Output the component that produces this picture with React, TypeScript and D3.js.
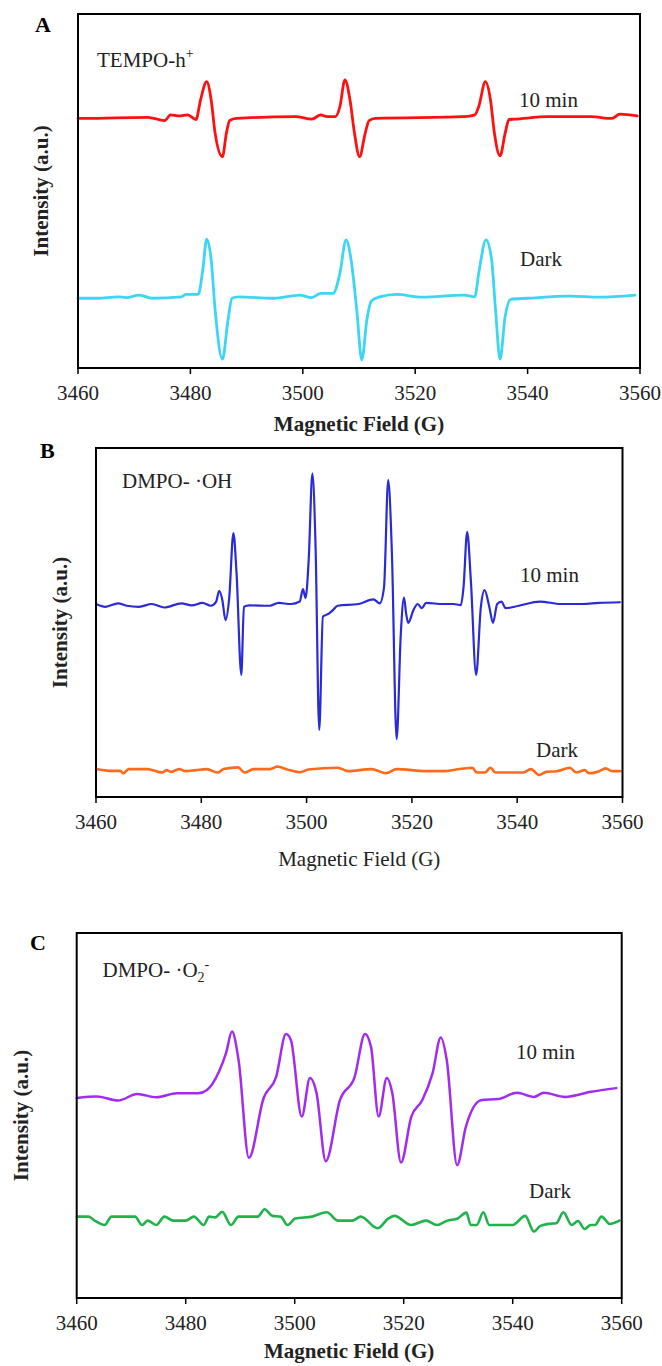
import React from "react";
import * as d3 from "d3";

// ---------- data (field in G, intensity in a.u.) ----------
const fieldTicks = [3460, 3480, 3500, 3520, 3540, 3560];
const fieldDomain: [number, number] = [3460, 3560];
const intensityDomain: [number, number] = [0, 100];

const tempo10min: [number, number][] = [
  [3460, 70.5], [3461.1, 70.5], [3472.4, 70.8], [3475.4, 69.9], [3476.5, 71.5], [3478.0, 71.2],
  [3479.5, 71.5], [3481.0, 70.2], [3481.8, 75.7], [3482.9, 80.9], [3483.7, 75.7], [3484.4, 66.3],
  [3485.7, 59.7], [3486.4, 66.3], [3487.0, 69.9], [3488.2, 70.5], [3498.7, 71.0], [3501.6, 70.3],
  [3503.2, 71.5], [3504.3, 71.0], [3505.8, 71.0], [3506.6, 73.8], [3507.5, 81.4], [3508.4, 75.7],
  [3509.2, 66.3], [3510.1, 59.7], [3511.1, 66.3], [3511.8, 69.9], [3512.9, 70.5], [3528.7, 71.0],
  [3530.6, 71.5], [3531.3, 73.8], [3532.5, 80.9], [3533.4, 75.7], [3534.1, 66.3], [3535.1, 59.9],
  [3536.0, 66.3], [3536.7, 70.2], [3537.7, 70.3], [3543.7, 71.0], [3551.2, 71.0], [3555.0, 70.5],
  [3556.4, 71.7], [3559.5, 71.2],
];

const tempoDark: [number, number][] = [
  [3460, 19.7], [3463.4, 19.7], [3467.2, 20.1], [3468.6, 19.9], [3470.9, 20.6], [3473.2, 19.7],
  [3478.4, 20.1], [3479.2, 20.8], [3481.4, 20.8], [3482.2, 27.7], [3482.9, 36.4], [3483.7, 30.5],
  [3484.4, 16.4], [3485.7, 2.5], [3486.7, 13.6], [3487.4, 19.7], [3488.5, 20.1], [3494.9, 19.7],
  [3499.4, 20.6], [3501.6, 19.9], [3503.2, 21.1], [3505.4, 21.1], [3506.6, 26.7], [3507.7, 36.2],
  [3508.6, 30.5], [3509.6, 16.4], [3510.5, 2.3], [3511.4, 13.6], [3512.2, 18.9], [3513.7, 20.1],
  [3516.7, 20.8], [3521.2, 20.0], [3528.7, 20.6], [3530.6, 20.1], [3531.3, 26.7], [3532.6, 36.2],
  [3533.6, 30.5], [3534.3, 16.4], [3535.1, 2.5], [3536.0, 14.5], [3537.0, 19.4], [3540.0, 19.7],
  [3547.5, 20.3], [3552.7, 20.0], [3559.1, 20.6],
];

const dmpoOH10min: [number, number][] = [
  [3460, 55.3], [3461.8, 54.5], [3464.2, 55.5], [3465.8, 54.8], [3468.2, 54.5], [3470.6, 55.3],
  [3473.0, 54.3], [3476.2, 55.5], [3478.2, 54.9], [3480.2, 55.6], [3481.8, 54.8], [3482.8, 55.9],
  [3483.4, 59.1], [3484.0, 56.4], [3484.6, 50.7], [3485.3, 57.0], [3486.1, 75.6], [3486.7, 64.0],
  [3487.6, 35.0], [3488.1, 54.5], [3489.1, 54.9], [3493.0, 54.8], [3494.7, 55.6], [3497.0, 55.3],
  [3498.7, 56.0], [3499.3, 59.6], [3499.8, 57.0], [3500.4, 68.0], [3501.1, 92.7], [3501.7, 72.0],
  [3502.4, 19.2], [3503.1, 51.7], [3504.3, 52.6], [3505.1, 53.7], [3505.9, 54.8], [3509.9, 55.3],
  [3512.7, 56.6], [3513.9, 55.5], [3514.7, 60.0], [3515.5, 90.8], [3516.2, 70.0], [3517.1, 16.6],
  [3517.9, 47.0], [3518.5, 57.1], [3518.9, 52.6], [3519.3, 49.9], [3520.3, 53.6], [3521.1, 55.3],
  [3521.9, 54.1], [3522.7, 55.6], [3525.9, 55.3], [3527.9, 55.3], [3529.3, 55.0], [3529.8, 60.0],
  [3530.5, 76.0], [3531.2, 62.0], [3532.2, 35.0], [3533.1, 54.5], [3533.8, 59.3], [3534.7, 54.5],
  [3535.4, 49.9], [3536.2, 55.3], [3537.0, 56.0], [3537.8, 54.1], [3540.3, 54.8], [3544.3, 56.0],
  [3548.3, 55.3], [3552.3, 55.3], [3555.5, 55.6], [3559.5, 55.8],
];

const dmpoOHDark: [number, number][] = [
  [3460, 8.0], [3462.6, 7.5], [3464.6, 7.5], [3465.2, 6.8], [3466.2, 8.0], [3469.8, 8.0],
  [3471.8, 7.2], [3472.6, 7.0], [3473.4, 7.7], [3474.2, 7.2], [3475.8, 8.0], [3477.0, 7.4],
  [3479.0, 7.7], [3481.0, 8.0], [3483.2, 7.0], [3484.2, 8.0], [3487.0, 8.5], [3488.2, 7.0],
  [3489.9, 8.0], [3493.0, 8.0], [3494.5, 8.7], [3496.3, 7.9], [3498.7, 7.1], [3500.3, 7.9],
  [3505.9, 8.4], [3507.9, 7.4], [3512.3, 8.0], [3515.1, 6.8], [3517.1, 8.0], [3522.7, 7.4],
  [3525.9, 7.4], [3529.1, 8.0], [3531.5, 8.4], [3532.3, 7.0], [3533.9, 7.0], [3534.9, 8.4],
  [3535.9, 7.0], [3541.1, 7.0], [3542.6, 8.0], [3544.2, 6.3], [3545.5, 7.2], [3547.6, 7.4],
  [3550.0, 8.4], [3551.2, 7.0], [3552.8, 7.7], [3553.6, 6.8], [3555.6, 7.4], [3556.8, 8.2],
  [3558.0, 7.4], [3559.6, 7.4],
];

const dmpoO210min: [number, number][] = [
  [3460, 54.8], [3463.7, 55.2], [3467.6, 54.1], [3471.1, 55.9], [3474.6, 55.0], [3478.4, 56.1],
  [3482.3, 56.1], [3483.9, 57.0], [3486.1, 62.0], [3487.4, 67.1], [3488.5, 73.0], [3489.7, 65.2],
  [3491.6, 38.4], [3494.3, 54.8], [3496.6, 60.6], [3498.4, 72.3], [3499.3, 70.7], [3501.3, 49.7],
  [3502.8, 60.3], [3504.0, 56.2], [3505.7, 37.5], [3508.3, 54.2], [3511.0, 60.6], [3512.9, 72.3],
  [3514.0, 68.8], [3515.4, 49.7], [3516.9, 60.3], [3517.9, 56.2], [3519.5, 37.1], [3521.4, 49.7],
  [3523.4, 54.2], [3525.3, 61.6], [3526.8, 71.4], [3527.9, 65.2], [3529.8, 36.4], [3531.4, 46.9],
  [3534.2, 54.2], [3537.3, 54.5], [3540.8, 56.2], [3543.9, 55.1], [3545.7, 56.2], [3549.6, 55.1],
  [3554.4, 56.5], [3559.0, 57.5],
];

const dmpoO2Dark: [number, number][] = [
  [3460, 22.3], [3462.2, 22.3], [3463.3, 21.2], [3465.1, 20.0], [3466.4, 22.3], [3470.7, 22.3],
  [3472.0, 20.0], [3473.0, 21.2], [3474.6, 20.0], [3476.1, 22.3], [3477.7, 21.2], [3480.0, 21.2],
  [3481.5, 22.3], [3483.3, 20.0], [3484.3, 22.3], [3485.4, 22.1], [3486.7, 23.6], [3488.3, 20.0],
  [3489.7, 22.3], [3493.2, 22.3], [3494.5, 24.3], [3495.9, 22.5], [3497.4, 22.3], [3498.7, 20.0],
  [3500.1, 21.8], [3503.2, 22.3], [3505.9, 23.5], [3507.9, 21.2], [3510.6, 21.2], [3512.1, 22.3],
  [3515.2, 19.1], [3517.2, 21.8], [3518.3, 22.5], [3521.4, 20.0], [3524.1, 21.2], [3526.1, 20.0],
  [3528.0, 21.2], [3529.9, 21.8], [3531.5, 23.4], [3532.3, 20.0], [3533.4, 20.0], [3534.6, 23.5],
  [3535.7, 20.0], [3540.0, 20.0], [3542.3, 22.5], [3543.9, 18.2], [3545.0, 19.7], [3546.6, 20.3],
  [3548.0, 20.5], [3549.3, 23.5], [3550.8, 20.0], [3552.0, 21.1], [3553.2, 18.9], [3554.3, 20.0],
  [3555.1, 20.0], [3556.3, 22.3], [3557.8, 20.3], [3559.6, 21.2],
];

// ---------- layout ----------
const FONT = "'Liberation Serif', 'Times New Roman', Times, serif";

type Series = { data: [number, number][]; color: string; width: number };
type Label = { x: number; y: number; text: React.ReactNode };
type PanelCfg = {
  letter: string;
  letterX: number;
  letterY: number;
  left: number;
  right: number;
  top: number;
  bottom: number;
  series: Series[];
  labels: Label[];
  xTitleY: number;
  xTitleBold: boolean;
  yTitleX: number;
};

const panels: PanelCfg[] = [
  {
    letter: "A", letterX: 35, letterY: 32,
    left: 78, right: 640, top: 14, bottom: 368,
    series: [
      { data: tempo10min, color: "#ff1010", width: 2.8 },
      { data: tempoDark, color: "#3dd6f2", width: 2.8 },
    ],
    labels: [
      { x: 97, y: 67, text: <>TEMPO-h<tspan fontSize={14} dy={-9}>+</tspan></> },
      { x: 519, y: 107, text: "10 min" },
      { x: 520, y: 266, text: "Dark" },
    ],
    xTitleY: 431, xTitleBold: true, yTitleX: 48,
  },
  {
    letter: "B", letterX: 40, letterY: 458,
    left: 96, right: 622.5, top: 448, bottom: 797,
    series: [
      { data: dmpoOH10min, color: "#2a2ad6", width: 2.2 },
      { data: dmpoOHDark, color: "#ff6a1a", width: 2.6 },
    ],
    labels: [
      { x: 122, y: 488, text: "DMPO- ·OH" },
      { x: 520, y: 582, text: "10 min" },
      { x: 536, y: 757, text: "Dark" },
    ],
    xTitleY: 866, xTitleBold: false, yTitleX: 67,
  },
  {
    letter: "C", letterX: 30, letterY: 950,
    left: 76.7, right: 621.7, top: 933, bottom: 1298,
    series: [
      { data: dmpoO210min, color: "#a12cf0", width: 2.5 },
      { data: dmpoO2Dark, color: "#22b24c", width: 2.6 },
    ],
    labels: [
      { x: 102.5, y: 977, text: <>DMPO- ·O<tspan fontSize={14} dy={5}>2</tspan><tspan fontSize={14} dy={-13}>-</tspan></> },
      { x: 516, y: 1059, text: "10 min" },
      { x: 529, y: 1198, text: "Dark" },
    ],
    xTitleY: 1358, xTitleBold: true, yTitleX: 28,
  },
];

function Panel({ cfg }: { cfg: PanelCfg }) {
  const x = d3.scaleLinear().domain(fieldDomain).range([cfg.left, cfg.right]);
  const y = d3.scaleLinear().domain(intensityDomain).range([cfg.bottom, cfg.top]);
  const line = d3
    .line<[number, number]>()
    .x((d) => x(d[0]))
    .y((d) => y(d[1]))
    .curve(d3.curveMonotoneX);
  const cx = (cfg.left + cfg.right) / 2;
  const cy = (cfg.top + cfg.bottom) / 2;
  return (
    <g>
      <text x={cfg.letterX} y={cfg.letterY} fontSize={22} fontWeight="bold" fontFamily={FONT}>
        {cfg.letter}
      </text>
      {cfg.series.map((s, i) => (
        <path key={i} d={line(s.data) || ""} fill="none" stroke={s.color} strokeWidth={s.width}
          strokeLinejoin="round" strokeLinecap="round" />
      ))}
      <rect x={cfg.left} y={cfg.top} width={cfg.right - cfg.left} height={cfg.bottom - cfg.top}
        fill="none" stroke="#000" strokeWidth={2} />
      {fieldTicks.map((t) => (
        <g key={t}>
          <line x1={x(t)} x2={x(t)} y1={cfg.bottom} y2={cfg.bottom + 6} stroke="#000" strokeWidth={1.5} />
          <text x={x(t)} y={cfg.bottom + 32} fontSize={21} textAnchor="middle" fontFamily={FONT} fill="#222">
            {t}
          </text>
        </g>
      ))}
      {cfg.labels.map((l, i) => (
        <text key={i} x={l.x} y={l.y} fontSize={21} fontFamily={FONT} fill="#222">
          {l.text}
        </text>
      ))}
      <text x={cx} y={cfg.xTitleY} fontSize={21} textAnchor="middle" fontFamily={FONT}
        fontWeight={cfg.xTitleBold ? "bold" : "normal"} fill="#222">
        Magnetic Field (G)
      </text>
      <text transform={`translate(${cfg.yTitleX},${cy}) rotate(-90)`} fontSize={21} textAnchor="middle"
        fontFamily={FONT} fontWeight="bold" fill="#222">
        Intensity (a.u.)
      </text>
    </g>
  );
}

export default function App() {
  return (
    <svg width={662} height={1366} style={{ position: "absolute", left: 0, top: 0, background: "#fff" }}>
      <rect width={662} height={1366} fill="#fff" />
      {panels.map((p) => (
        <Panel key={p.letter} cfg={p} />
      ))}
    </svg>
  );
}
